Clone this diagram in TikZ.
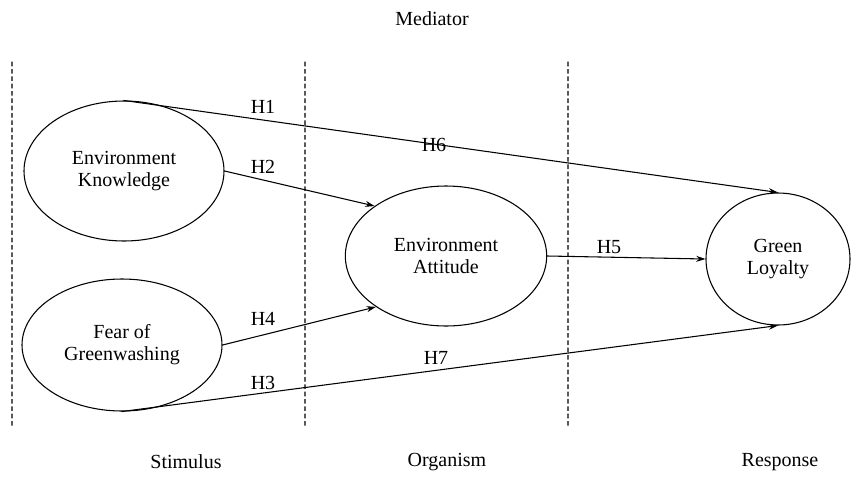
\documentclass[tikz,border=0pt]{standalone}
\usepackage{fontspec}
\setmainfont{Liberation Serif}
\usetikzlibrary{shapes.geometric,arrows.meta}

\begin{document}
\begin{tikzpicture}[line cap=round,line join=round,x=0.75pt,y=-0.75pt,
  construct/.style={draw,ellipse,line width=0.8pt,inner sep=0pt,align=center,font=\fontsize{15}{16.5}\selectfont},
  hpath/.style={line width=0.8pt,-{Stealth[length=7pt,width=4.5pt]}},
  hlabel/.style={inner sep=0pt,font=\fontsize{15}{17}\selectfont},
  divider/.style={dash pattern=on 3pt off 2.5pt,black!65,line width=0.8pt}]

\def\dtop{62} %divider top
\def\dbot{428} %divider bottom
\def\stagey{462} %stage labels

\useasboundingbox (0,0) rectangle (851,497);

%dividers
\foreach \dx in {12,305,568} \draw[divider] (\dx,\dtop) -- (\dx,\dbot);

%constructs
\node[construct,minimum width=150pt,minimum height=105pt] (know) at (124,171) {Environment\\Knowledge};
\node[construct,minimum width=150pt,minimum height=99pt] (fear) at (122,345) {Fear of\\Greenwashing};
\node[construct,minimum width=151pt,minimum height=105pt] (att) at (446,256) {Environment\\Attitude};
\node[construct,minimum width=108pt,minimum height=99pt] (loyal) at (778,259) {Green\\Loyalty};

%paths
\draw[hpath] (know.north) -- (loyal.north);
\draw[hpath] (know.east) -- (att.145);
\draw[hpath] (fear.east) -- (att.216);
\draw[hpath] (fear.south) -- (loyal.south);
\draw[hpath] (att.east) -- (loyal.west);

%hypotheses
\node[hlabel] (h1) at (263,107) {H1};
\node[hlabel] (h2) at (263,167) {H2};
\node[hlabel] (h4) at (263,319) {H4};
\node[hlabel] (h3) at (263,383) {H3};
\node[hlabel] (h6) at (434,145) {H6};
\node[hlabel] (h7) at (436,358) {H7};
\node[hlabel] (h5) at (609,247) {H5};

%stages
\node[hlabel] (med) at (432,19) {Mediator};
\node[hlabel] (stim) at (186,\stagey) {Stimulus};
\node[hlabel] (org) at (447,\stagey) {Organism};
\node[hlabel] (resp) at (780,\stagey) {Response};

\end{tikzpicture}
\end{document}
